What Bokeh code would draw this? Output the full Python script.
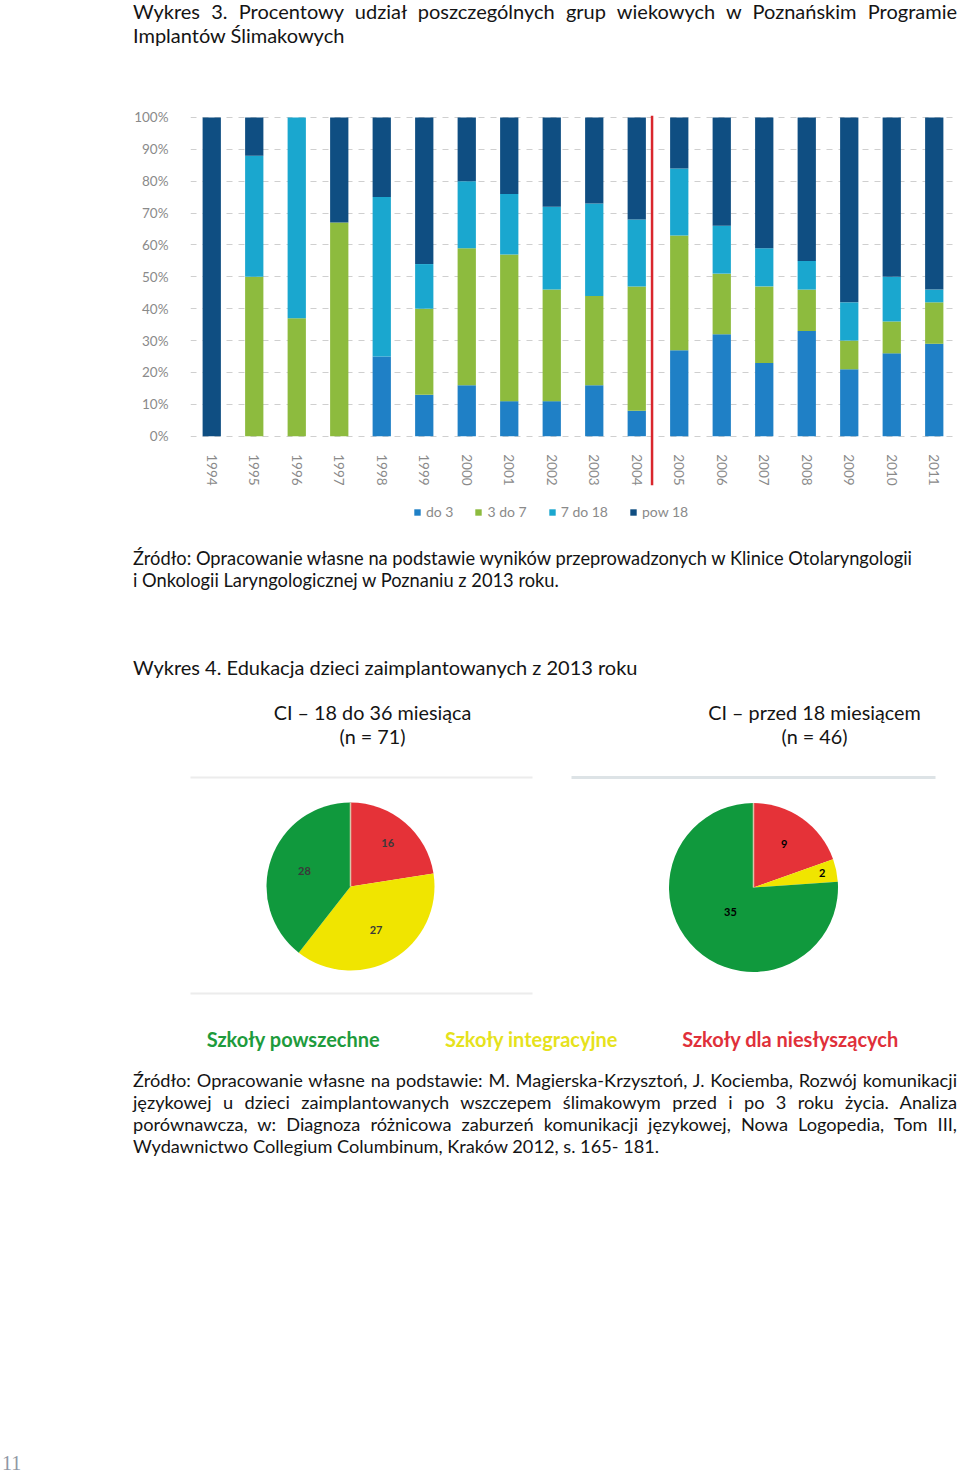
import math
import numpy as np
from bokeh.plotting import figure
from bokeh.models import (ColumnDataSource, FactorRange, Range1d, FixedTicker,
                          Legend, LegendItem, Div, CustomJSTickFormatter)
from bokeh.transform import dodge
from bokeh.layouts import column
from bokeh.embed import file_html
from bokeh.resources import INLINE
from bokeh.core.properties import value

# ---------------- data ----------------
years = [str(y) for y in range(1994, 2012)]
do_3       = [0, 0, 0, 0, 25, 13, 16, 11, 11, 16, 8, 27, 32, 23, 33, 21, 26, 29]
od_3_do_7  = [0, 50, 37, 67, 0, 27, 43, 46, 35, 28, 39, 36, 19, 24, 13, 9, 10, 13]
od_7_do_18 = [0, 38, 63, 0, 50, 14, 21, 19, 26, 29, 21, 21, 15, 12, 9, 12, 14, 4]
pow_18     = [100, 12, 0, 33, 25, 46, 20, 24, 28, 27, 32, 16, 34, 41, 45, 58, 50, 54]
age_groups = ["do 3", "3 do 7", "7 do 18", "pow 18"]
y_ticks = [0, 10, 20, 30, 40, 50, 60, 70, 80, 90, 100]
divider_after = "2004"

pie1_title = ["CI – 18 do 36 miesiąca", "(n = 71)"]
pie2_title = ["CI – przed 18 miesiącem", "(n = 46)"]
school_types = ["Szkoły dla niesłyszących", "Szkoły integracyjne", "Szkoły powszechne"]
pie1_values = [16, 27, 28]
pie2_values = [9, 2, 35]

title3_lines = ["Wykres 3. Procentowy udział poszczególnych grup wiekowych w Poznańskim Programie",
                "Implantów Ślimakowych"]
source3_lines = ["Źródło: Opracowanie własne na podstawie wyników przeprowadzonych w Klinice Otolaryngologii",
                 "i Onkologii Laryngologicznej w Poznaniu z 2013 roku."]
title4 = "Wykres 4. Edukacja dzieci zaimplantowanych z 2013 roku"
source4_lines = ["Źródło: Opracowanie własne na podstawie: M. Magierska-Krzysztoń, J. Kociemba, Rozwój komunikacji",
                 "językowej u dzieci zaimplantowanych wszczepem ślimakowym przed i po 3 roku życia. Analiza",
                 "porównawcza, w: Diagnoza różnicowa zaburzeń komunikacji językowej, Nowa Logopedia, Tom III,",
                 "Wydawnictwo Collegium Columbinum, Kraków 2012, s. 165- 181."]
page_number = "11"

# ---------------- styles ----------------
FONT = "Lato"
BAR_COLORS = ["#1f80c6", "#8dbb3e", "#1aa7cf", "#0f4e82"]
PIE_COLORS = ["#e53238", "#f0e500", "#10993d"]
SCHOOL_TEXT_COLORS = ["#e0303a", "#e6e21c", "#1e9b3c"]
TEXT_COLOR = "#141414"
FRAME_LEFT = 190   # left edge of the plotting frames (page px)
PAGE_W = 955


def lines_html(lines, justified, size, lh, width, extra=""):
    out = []
    for ln, j in zip(lines, justified):
        st = "text-align:justify;text-align-last:justify;" if j else "white-space:nowrap;"
        out.append(f'<div style="{st}">{ln}</div>')
    return (f'<div style="font-family:{FONT};font-size:{size}px;line-height:{lh}px;width:{width}px;'
            f'color:{TEXT_COLOR};{extra}">' + "".join(out) + "</div>")


# ---------------- title ----------------
title_div = Div(text=lines_html(title3_lines, [True, False], 20, 24, 824),
                width=824, height=49, margin=(-1, 0, 0, 133), styles={"overflow": "visible"})

# ---------------- bar chart ----------------
bar = figure(x_range=FactorRange(*years, range_padding=0), y_range=Range1d(-28, 100.6),
             width=PAGE_W, height=482, output_backend="svg", toolbar_location=None,
             min_border_left=FRAME_LEFT, min_border_right=0, min_border_top=67, min_border_bottom=5)
keys = ["g0", "g1", "g2", "g3"]
src = ColumnDataSource(dict(year=years, g0=do_3, g1=od_3_do_7, g2=od_7_do_18, g3=pow_18))
rs = bar.vbar_stack(keys, x="year", width=0.43, color=BAR_COLORS, line_color=None, source=src)

div_src = ColumnDataSource(dict(x=[divider_after]))
bar.segment(x0=dodge("x", 0.36, range=bar.x_range), y0=-15.4,
            x1=dodge("x", 0.36, range=bar.x_range), y1=100.6,
            line_color="#d9262c", line_width=2.5, source=div_src)

bar.outline_line_color = None
bar.xgrid.grid_line_color = None
bar.ygrid.ticker = FixedTicker(ticks=y_ticks)
bar.ygrid.grid_line_color = "#cfcfcf"
bar.ygrid.grid_line_dash = "6 6"
bar.ygrid.level = "underlay"

bar.yaxis.ticker = FixedTicker(ticks=y_ticks)
bar.yaxis.formatter = CustomJSTickFormatter(code="return tick + '%';")
bar.yaxis.axis_line_color = None
bar.yaxis.major_tick_line_color = None
bar.yaxis.minor_tick_line_color = None
bar.yaxis.major_label_standoff = 16
bar.yaxis.major_label_text_font = FONT
bar.yaxis.major_label_text_font_size = "13.5px"
bar.yaxis.major_label_text_color = "#8a8a8a"

bar.xaxis.fixed_location = 0
bar.xaxis.axis_line_color = None
bar.xaxis.major_tick_line_color = None
bar.xaxis.major_label_orientation = -math.pi / 2
bar.xaxis.major_label_standoff = 12
bar.xaxis.major_label_text_font = FONT
bar.xaxis.major_label_text_font_size = "13.5px"
bar.xaxis.major_label_text_color = "#8a8a8a"

legend = Legend(items=[LegendItem(label=lab, renderers=[r]) for lab, r in zip(age_groups, rs)],
                location=(223, 5), orientation="horizontal", glyph_width=8, glyph_height=8,
                label_text_font=FONT, label_text_font_size="14px", label_text_color="#8a8a8a",
                label_standoff=5, spacing=21, padding=0, margin=0,
                border_line_color=None, background_fill_alpha=0, label_height=12)
bar.add_layout(legend)

# ---------------- source 3 / title 4 ----------------
src3_div = Div(text=lines_html(source3_lines, [False, False], 18.3, 22, 824, "padding-top:17px;"),
               width=824, height=70, margin=(0, 0, 0, 133), styles={"overflow": "visible"})
title4_div = Div(text=lines_html([title4], [False], 20, 22, 824, "padding-top:56px;"),
                 width=824, height=90, margin=(0, 0, 0, 133), styles={"overflow": "visible"})

# ---------------- pies ----------------
PAGE_TOP = 690
PAGE_BOTTOM = 1060


def X(px):
    return px - FRAME_LEFT


def Y(py):
    return PAGE_BOTTOM - py


pie = figure(x_range=Range1d(0, PAGE_W - FRAME_LEFT), y_range=Range1d(0, PAGE_BOTTOM - PAGE_TOP),
             width=PAGE_W, height=PAGE_BOTTOM - PAGE_TOP, output_backend="svg",
             toolbar_location=None, min_border=0, min_border_left=FRAME_LEFT)
pie.axis.visible = False
pie.grid.visible = False
pie.outline_line_color = None

# panel frames
pie.segment(x0=[X(168), X(168)], y0=[Y(777), Y(993)],
            x1=[X(532), X(532)], y1=[Y(777), Y(993)],
            line_color="#ececec", line_width=2)
pie.segment(x0=[X(571)], y0=[Y(777)], x1=[X(935)], y1=[Y(777)], line_color="#dde3e6", line_width=3)


def draw_pie(vals, cx, cy, r, label_fracs, label_color, label_size):
    tot = float(sum(vals))
    cum = np.concatenate([[0.0], np.cumsum(vals)]) / tot
    start = [math.pi / 2 - 2 * math.pi * cum[i + 1] for i in range(len(vals))]
    end = [math.pi / 2 - 2 * math.pi * cum[i] for i in range(len(vals))]
    mid = [(s + e) / 2 for s, e in zip(start, end)]
    s = ColumnDataSource(dict(start=start, end=end, color=PIE_COLORS,
                              lx=[X(cx) + f * r * math.cos(m) for f, m in zip(label_fracs, mid)],
                              ly=[Y(cy) + f * r * math.sin(m) for f, m in zip(label_fracs, mid)],
                              txt=[str(v) for v in vals]))
    pie.wedge(x=X(cx), y=Y(cy), radius=r, start_angle="start", end_angle="end",
              color="color", line_color=None, source=s)
    pie.segment(x0=[X(cx)], y0=[Y(cy)], x1=[X(cx)], y1=[Y(cy) + r], line_color="#d8c4a8", line_width=1.5)
    pie.text(x="lx", y="ly", text="txt", source=s, text_align="center", text_baseline="middle",
             text_font=value(FONT), text_font_style="bold", text_font_size=label_size,
             text_color=label_color)


draw_pie(pie1_values, 350, 886, 84, [0.68, 0.6, 0.58], "#3a3a3a", "11px")
draw_pie(pie2_values, 753, 887, 84.5, [0.63, 0.83, 0.40], "#000000", "11px")

for title, cx in [(pie1_title, 372), (pie2_title, 814)]:
    pie.text(x=[X(cx), X(cx)], y=[Y(711), Y(735)], text=title, text_align="center",
             text_baseline="middle", text_font=value(FONT), text_font_size="19.8px",
             text_color=TEXT_COLOR)

pie.text(x=[X(790), X(531), X(293)], y=[Y(1038)] * 3, text=school_types,
         text_color=SCHOOL_TEXT_COLORS, text_align="center", text_baseline="middle",
         text_font=value(FONT), text_font_style="bold", text_font_size="20px")

# ---------------- source 4 ----------------
src4_div = Div(text=lines_html(source4_lines, [True, True, True, False], 18.2, 22, 824, "padding-top:9px;"),
               width=824, height=100, margin=(0, 0, 0, 133), styles={"overflow": "visible"})

page_div = Div(text=(f'<div style="font-family:\'Liberation Serif\';font-size:20px;line-height:16px;'
                     f'color:#8f97a4;padding-top:295px;padding-left:2px;white-space:nowrap">{page_number}</div>'),
               width=60, height=313, margin=0, styles={"overflow": "visible"})

layout = column(title_div, bar, src3_div, title4_div, pie, src4_div, page_div, spacing=0)

open("out.html", "w").write(file_html(layout, INLINE))
